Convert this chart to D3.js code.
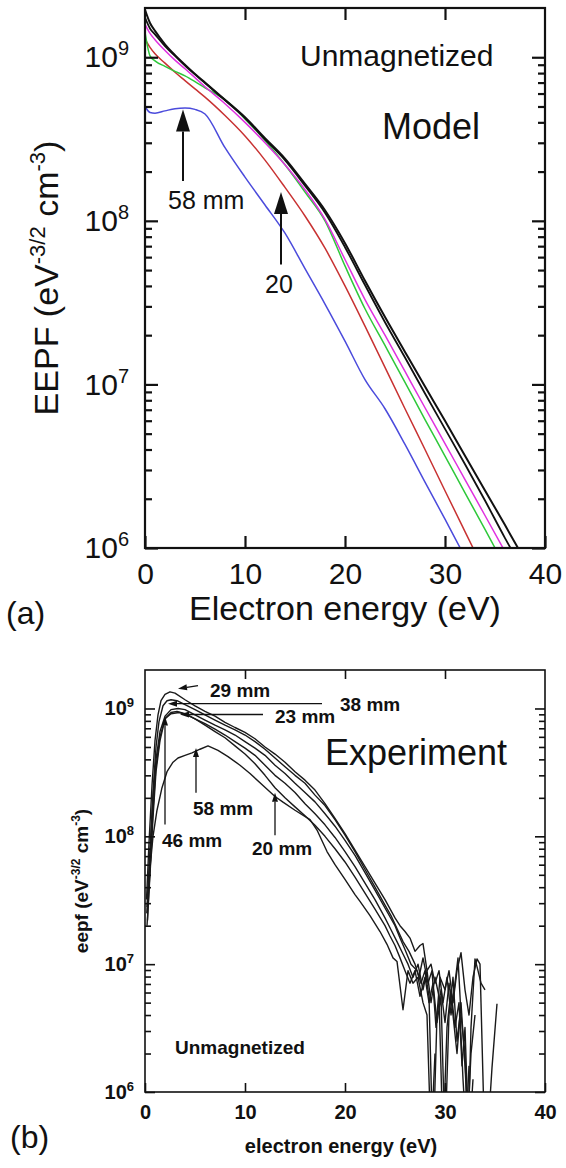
<!DOCTYPE html>
<html>
<head>
<meta charset="utf-8">
<script src="https://cdn.jsdelivr.net/npm/d3@7"></script>
<style>
  body { margin: 0; background: #fff; }
  text { font-family: "Liberation Sans", Arial, Helvetica, sans-serif; fill: #111; }
</style>
</head>
<body>
<div id="chart"></div>
<script>
// ---------- panel (a): model EEPF on a common energy grid (eV)
var modelEnergy = [0, 0.5, 1, 2, 3, 4, 5, 6, 8, 10, 12, 14, 16, 18, 20, 22, 24, 26, 28, 30, 32, 34, 36, 38];

var modelBlackA = [1.95e9, 1.62e9, 1.45e9, 1.2e9, 1.03e9, 9.0e8, 7.9e8, 7.0e8, 5.5e8, 4.3e8, 3.2e8, 2.4e8,
  1.68e8, 1.16e8, 7.3e7, 4.3e7, 2.58e7, 1.58e7, 9.7e6, 6.0e6, 3.66e6, 2.25e6, 1.38e6, 8.4e5];
var modelBlackB = [1.75e9, 1.5e9, 1.38e9, 1.17e9, 1.02e9, 8.9e8, 7.85e8, 6.95e8, 5.45e8, 4.25e8, 3.15e8, 2.35e8,
  1.64e8, 1.12e8, 6.9e7, 4.05e7, 2.4e7, 1.46e7, 8.8e6, 5.35e6, 3.25e6, 1.95e6, 1.15e6, 7.0e5];
var modelMagenta = [1.59e9, 1.4e9, 1.28e9, 1.1e9, 9.6e8, 8.5e8, 7.5e8, 6.6e8, 5.2e8, 4.0e8, 3.0e8, 2.2e8,
  1.55e8, 1.02e8, 5.8e7, 3.3e7, 2.0e7, 1.2e7, 7.2e6, 4.35e6, 2.62e6, 1.58e6, 9.5e5, 5.7e5];
var modelGreen = [1.42e9, 1.02e9, 9.5e8, 8.8e8, 8.2e8, 7.7e8, 7.1e8, 6.5e8, 5.5e8, 4.2e8, 3.1e8, 2.2e8,
  1.5e8, 1.0e8, 5.3e7, 2.9e7, 1.73e7, 1.03e7, 6.1e6, 3.65e6, 2.17e6, 1.3e6, 7.7e5, 4.6e5];
var modelRed = [1.29e9, 1.15e9, 1.05e9, 9.2e8, 8.1e8, 7.2e8, 6.4e8, 5.7e8, 4.4e8, 3.3e8, 2.35e8, 1.6e8,
  1.07e8, 6.8e7, 4.0e7, 2.27e7, 1.27e7, 7.1e6, 4.0e6, 2.24e6, 1.26e6, 7.1e5, 4.0e5, 2.2e5];
var modelBlue = [5.0e8, 4.6e8, 4.55e8, 4.7e8, 4.85e8, 4.9e8, 4.8e8, 4.5e8, 2.8e8, 1.85e8, 1.25e8, 8.4e7,
  5.1e7, 3.1e7, 1.84e7, 1.07e7, 7.1e6, 4.3e6, 2.53e6, 1.5e6, 8.8e5, 5.2e5, 3.0e5, 1.8e5];

var modelSeries = [
  { values: modelBlue, color: "#4b4bdc", width: 1.5 },
  { values: modelRed, color: "#c83232", width: 1.5 },
  { values: modelGreen, color: "#2ec83a", width: 1.5 },
  { values: modelMagenta, color: "#e030e0", width: 1.5 },
  { values: modelBlackB, color: "#111", width: 1.8 },
  { values: modelBlackA, color: "#111", width: 2 }
];

// arrows of panel (a): energy, tip and tail values
var modelArrows = [
  { label: "58 mm", energy: 3.8, tip: 4.8e8, tail: 1.75e8, dx: -15 },
  { label: "20", energy: 13.6, tip: 1.5e8, tail: 5.4e7, dx: -16 }
];

// ---------- panel (b): experiment, [energy (eV), eepf] pairs
var exp29mm = [[0.15,3.2e7],[0.4,8.9e7],[0.7,2.5e8],[1.0,5.6e8],[1.3,8.9e8],[1.6,1.15e9],[2.0,1.29e9],[2.5,1.35e9],
  [3.0,1.32e9],[4,1.17e9],[5,1.05e9],[6,9.5e8],[7,8.7e8],[8,7.8e8],[9,7.1e8],[10,6.5e8],[11,5.8e8],[12,5.0e8],
  [13,4.4e8],[14,3.8e8],[15,3.2e8],[16,2.75e8],[17,2.3e8],[18,1.8e8],[19,1.38e8],[20,1.05e8],[21,7.8e7],[22,5.8e7],
  [23,4.3e7],[24,3.2e7],[25,2.3e7],[25.5,2.0e7],[26,1.8e7],[26.5,1.6e7],[27,1.26e7],[27.5,1.4e7],[27.8,1.45e7],
  [28.2,8.9e6],[28.6,1.0e7],[29,7.1e6],[29.4,8.9e6],[29.8,5.0e6],[30.2,7.9e6],[30.6,4.0e6],[31,7.1e6],[31.3,1.12e7],
  [31.6,4.0e6],[32,2.0e6],[32.3,4.0e5],[32.6,3.2e6],[33,1.1e7],[33.3,8.9e6],[33.6,7.1e6],[34,6.3e6]];
var exp38mm = [[0.2,2.8e7],[0.5,7.9e7],[0.8,2.2e8],[1.1,5.0e8],[1.4,7.9e8],[1.8,1.05e9],[2.2,1.15e9],[2.6,1.17e9],
  [3.2,1.15e9],[4,1.07e9],[5,9.8e8],[6,8.9e8],[7,8.1e8],[8,7.4e8],[9,6.8e8],[10,6.2e8],[11,5.5e8],[12,4.8e8],
  [13,4.1e8],[14,3.5e8],[15,3.0e8],[16,2.6e8],[17,2.1e8],[18,1.74e8],[19,1.35e8],[20,1.02e8],[21,7.6e7],[22,5.5e7],
  [23,4.0e7],[24,2.9e7],[24.6,2.4e7],[25.2,1.9e7],[25.8,1.5e7],[26.4,1.26e7],[27,1.0e7],[27.4,7.9e6],[27.8,1.12e7],
  [28.3,7.1e6],[28.7,8.9e6],[29.1,3.2e6],[29.5,7.9e6],[30,6.3e6],[30.4,8.9e6],[30.8,5.0e6],[31.2,8.9e6],[31.6,1.23e7],
  [32,6.3e6],[32.4,4.0e6],[32.8,7.9e6],[33.2,1.1e7],[33.5,1.0e7],[34,3.2e5],[34.3,5.0e5],[34.7,1.55e6],[35.2,4.9e6]];
var exp23mm = [[0.2,2.5e7],[0.5,7.1e7],[0.8,2.0e8],[1.1,4.0e8],[1.5,6.6e8],[2.0,8.7e8],[2.6,9.8e8],[3.3,1.0e9],
  [4,9.8e8],[5,8.9e8],[6,8.1e8],[7,7.4e8],[8,6.8e8],[9,6.2e8],[10,5.5e8],[11,4.9e8],[12,4.3e8],[13,3.6e8],
  [14,3.1e8],[15,2.6e8],[16,2.2e8],[17,1.86e8],[18,1.5e8],[19,1.2e8],[20,9.3e7],[21,7.1e7],[22,5.2e7],[23,3.8e7],
  [24,2.75e7],[25,2.0e7],[25.5,1.6e7],[26,1.3e7],[26.6,1.0e7],[27.2,8.9e6],[27.6,7.1e6],[28,8.9e6],[28.4,5.6e6],
  [28.8,3.2e5],[29.2,4.0e6],[29.6,6.3e6],[30,3.5e6],[30.4,7.1e6],[30.8,4.0e6],[31.2,2.0e6],[31.6,5.0e6],[32,1.6e6],
  [32.4,4.0e5],[32.8,1.26e6]];
var exp20mm = [[0.25,2.2e7],[0.5,5.6e7],[0.8,1.6e8],[1.1,3.5e8],[1.5,6.0e8],[2.0,8.3e8],[2.6,9.3e8],[3.2,9.5e8],
  [4,9.1e8],[5,8.3e8],[6,7.4e8],[7,6.6e8],[8,5.9e8],[9,5.1e8],[10,4.4e8],[11,3.7e8],[12,3.0e8],[13,2.4e8],
  [14,2.0e8],[15,1.7e8],[16,1.45e8],[17,1.22e8],[18,1.0e8],[19,8.0e7],[20,6.3e7],[21,4.8e7],[22,3.6e7],[23,2.7e7],
  [24,2.0e7],[24.5,1.66e7],[25,1.4e7],[25.5,1.12e7],[26,8.9e6],[26.5,7.1e6],[27,8.9e6],[27.5,5.6e6],[28,7.9e6],
  [28.4,5.0e6],[28.8,7.1e6],[29.2,3.5e6],[29.6,5.6e6],[30,4.0e5],[30.4,4.0e6],[30.8,7.9e6],[31.2,2.5e6],[31.5,4.0e6],
  [31.8,1.26e6],[32.1,5.0e5],[32.4,1.6e6]];
var exp46mm = [[0.2,2.0e7],[0.5,5.0e7],[0.8,1.4e8],[1.1,3.2e8],[1.5,5.6e8],[2.0,8.3e8],[2.6,9.1e8],[3.4,9.3e8],
  [4.2,8.9e8],[5,8.3e8],[6,7.6e8],[7,6.9e8],[8,6.2e8],[9,5.5e8],[10,4.9e8],[11,4.3e8],[12,3.6e8],[13,3.0e8],
  [14,2.6e8],[15,2.2e8],[16,1.8e8],[17,1.5e8],[18,1.23e8],[19,9.8e7],[20,7.6e7],[21,5.8e7],[22,4.3e7],[23,3.2e7],
  [24,2.3e7],[24.6,1.86e7],[25.2,1.5e7],[25.8,1.2e7],[26.3,1.0e7],[26.8,7.9e6],[27.3,1.0e7],[27.8,6.3e6],[28.2,8.9e6],
  [28.6,5.0e6],[29,7.9e6],[29.4,5.6e6],[29.8,4.0e5],[30.2,3.2e6],[30.6,6.3e6],[31,3.2e6],[31.4,5.0e6],[31.7,1.6e6],
  [32,3.2e6],[32.3,6.3e5],[32.6,2.0e6],[33,4.0e6]];
var exp58mm = [[0.2,2.5e7],[0.5,5.6e7],[0.8,1.0e8],[1.2,1.6e8],[1.7,2.4e8],[2.2,3.2e8],[2.8,3.8e8],[3.3,4.1e8],
  [4.0,4.3e8],[4.7,4.5e8],[5.5,4.8e8],[6.3,5.1e8],[7.3,4.7e8],[8.3,4.2e8],[9.5,3.6e8],[10.5,3.1e8],[11.8,2.5e8],
  [13,2.05e8],[13.8,1.85e8],[15,1.6e8],[16.5,1.35e8],[17.2,1.12e8],[18.2,7.6e7],[19,6.0e7],[20,4.6e7],[21,3.5e7],
  [21.5,3.1e7],[22.5,2.4e7],[23.5,1.8e7],[24.2,1.43e7],[24.8,1.12e7],[25.2,1.05e7],[25.8,4.4e6],[26.3,8.9e6],
  [26.8,7.1e6],[27.3,7.9e6],[27.8,5.0e6],[28.2,4.0e6],[28.6,4.0e5],[29,2.0e6]];

var expCurves = [exp58mm, exp20mm, exp46mm, exp23mm, exp38mm, exp29mm];

// labels and arrows of panel (b): [energy, eepf] points
var expArrows = [
  { label: "29 mm", from: [5.3, 1.51e9], to: [3.3, 1.43e9], text: [6.5, 1.22e9] },
  { label: "38 mm", from: [17.7, 1.09e9], to: [2.3, 1.09e9], text: [19.5, 9.5e8] },
  { label: "23 mm", from: [11.8, 8.97e8], to: [3.5, 8.97e8], text: [13.0, 7.65e8] },
  { label: "58 mm", from: [5.1, 2.19e8], to: [5.1, 4.9e8], text: [4.8, 1.46e8] },
  { label: "46 mm", from: [2.0, 1.24e8], to: [2.0, 8.66e8], text: [1.7, 8.2e7] },
  { label: "20 mm", from: [13.0, 1.02e8], to: [13.0, 2.19e8], text: [10.7, 7.13e7] }
];

var decades = [1e6, 1e7, 1e8, 1e9];
var minorTicks = [];
for (var p = 6; p <= 9; p++) {
  for (var m = 2; m <= 9; m++) {
    if (m * Math.pow(10, p) < 2e9) minorTicks.push(m * Math.pow(10, p));
  }
}

// ---------- svg and scales
var svgWidth = 566;
var svgHeight = 1168;

var svg = d3.select("#chart")
  .append("svg")
  .attr("width", svgWidth)
  .attr("height", svgHeight);

var x = d3.scaleLinear().domain([0, 40]).range([145, 545]);
var yA = d3.scaleLog().domain([1e6, 2e9]).range([548, 8]);
var yB = d3.scaleLog().domain([1e6, 2e9]).range([1092, 670]);

// superscript tick labels: 10^n
function powerLabels(axisG, supSize, rise) {
  axisG.selectAll(".tick text").each(function(d) {
    var t = d3.select(this).text(null);
    t.append("tspan").text("10");
    t.append("tspan").attr("font-size", supSize).attr("dy", -rise).text(Math.round(Math.log10(d)));
  });
}

// frame, inward ticks and tick labels for one panel
function drawAxes(yScale, s) {
  var g = svg.append("g");
  var top = yScale.range()[1], bottom = yScale.range()[0];

  var left = g.append("g")
    .attr("transform", `translate(${x(0)},0)`)
    .call(d3.axisLeft(yScale).tickValues(decades).tickSize(-s.major).tickSizeOuter(0).tickPadding(s.ypad));
  powerLabels(left, s.supSize, s.rise);
  g.append("g")
    .attr("transform", `translate(${x(0)},0)`)
    .call(d3.axisLeft(yScale).tickValues(minorTicks).tickSize(-s.minor).tickFormat(""));

  g.append("g")
    .attr("transform", `translate(${x(40)},0)`)
    .call(d3.axisRight(yScale).tickValues(decades).tickSize(-s.major).tickSizeOuter(0).tickFormat(""));
  g.append("g")
    .attr("transform", `translate(${x(40)},0)`)
    .call(d3.axisRight(yScale).tickValues(minorTicks).tickSize(-s.minor).tickFormat(""));

  var bottomAxis = g.append("g")
    .attr("transform", `translate(0,${bottom})`)
    .call(d3.axisBottom(x).tickValues([0, 10, 20, 30, 40]).tickSize(-s.xtick).tickSizeOuter(0).tickPadding(s.xpad));

  g.append("g")
    .attr("transform", `translate(0,${top})`)
    .call(d3.axisTop(x).tickValues([10, 20, 30]).tickSize(-s.xtick).tickSizeOuter(0).tickFormat(""));

  g.selectAll(".domain").remove();
  g.selectAll(".tick line").attr("stroke", "#111").attr("stroke-width", s.stroke);
  g.selectAll("g")
    .attr("font-family", null)
    .attr("font-size", s.font)
    .attr("font-weight", s.weight);
  bottomAxis.attr("font-size", s.xfont);

  g.append("rect")
    .attr("x", x(0))
    .attr("y", top)
    .attr("width", x(40) - x(0))
    .attr("height", bottom - top)
    .attr("fill", "none")
    .attr("stroke", "#111")
    .attr("stroke-width", s.stroke);
}

function arrow(g, x1, y1, x2, y2, headLen, headW, sw) {
  var ang = Math.atan2(y2 - y1, x2 - x1);
  var bx = x2 - headLen * Math.cos(ang), by = y2 - headLen * Math.sin(ang);
  g.append("line")
    .attr("x1", x1).attr("y1", y1).attr("x2", bx).attr("y2", by)
    .attr("stroke", "#111").attr("stroke-width", sw);
  var px = -Math.sin(ang) * headW / 2, py = Math.cos(ang) * headW / 2;
  g.append("path")
    .attr("d", `M${x2},${y2}L${bx + px},${by + py}L${bx - px},${by - py}Z`)
    .attr("fill", "#111");
}

// clip paths
var defs = svg.append("defs");
defs.append("clipPath").attr("id", "clipA").append("rect")
  .attr("x", x(0)).attr("y", yA(2e9)).attr("width", x(40) - x(0)).attr("height", yA(1e6) - yA(2e9));
defs.append("clipPath").attr("id", "clipB").append("rect")
  .attr("x", x(0)).attr("y", yB(2e9)).attr("width", x(40) - x(0)).attr("height", yB(1e6) - yB(2e9));

// ---------- panel (a)
var lineA = d3.line()
  .x((d, i) => x(modelEnergy[i]))
  .y(d => yA(d))
  .curve(d3.curveMonotoneX);

svg.append("g")
  .attr("clip-path", "url(#clipA)")
  .selectAll("path")
  .data(modelSeries)
  .enter()
  .append("path")
  .attr("d", d => lineA(d.values))
  .attr("fill", "none")
  .attr("stroke", d => d.color)
  .attr("stroke-width", d => d.width)
  .attr("stroke-linejoin", "round");

drawAxes(yA, { major: 13, minor: 7, xtick: 12, stroke: 2.2, ypad: 16, xpad: 15,
  font: 30, xfont: 29, weight: "normal", supSize: 20, rise: 12 });

var annA = svg.append("g");
modelArrows.forEach(function(a) {
  arrow(annA, x(a.energy), yA(a.tail), x(a.energy), yA(a.tip), 22, 14, 2);
  annA.append("text")
    .attr("x", x(a.energy) + a.dx)
    .attr("y", yA(a.tail) + 28)
    .attr("font-size", 25)
    .text(a.label);
});

annA.append("text").attr("x", x(15.5)).attr("y", yA(8.8e8)).attr("font-size", 30).text("Unmagnetized");
annA.append("text").attr("x", x(23.7)).attr("y", yA(3.15e8)).attr("font-size", 36).text("Model");

// axis labels (a)
svg.append("text")
  .attr("x", (x(0) + x(40)) / 2)
  .attr("y", 620)
  .attr("text-anchor", "middle")
  .attr("font-size", 34)
  .text("Electron energy (eV)");

var yLabelA = svg.append("text")
  .attr("transform", `translate(58,${(yA(1e6) + yA(2e9)) / 2}) rotate(-90)`)
  .attr("text-anchor", "middle")
  .attr("font-size", 34);
yLabelA.append("tspan").text("EEPF (eV");
yLabelA.append("tspan").attr("font-size", 22).attr("dy", -13).text("-3/2");
yLabelA.append("tspan").attr("dy", 13).text(" cm");
yLabelA.append("tspan").attr("font-size", 22).attr("dy", -13).text("-3");
yLabelA.append("tspan").attr("dy", 13).text(")");

svg.append("text").attr("x", 6).attr("y", 624).attr("font-size", 32).text("(a)");

// ---------- panel (b)
var lineB = d3.line()
  .x(d => x(d[0]))
  .y(d => yB(d[1]));

svg.append("g")
  .attr("clip-path", "url(#clipB)")
  .selectAll("path")
  .data(expCurves)
  .enter()
  .append("path")
  .attr("d", lineB)
  .attr("fill", "none")
  .attr("stroke", "#1a1a1a")
  .attr("stroke-width", 1.4)
  .attr("stroke-linejoin", "round");

drawAxes(yB, { major: 10, minor: 6, xtick: 9, stroke: 1.6, ypad: 11, xpad: 13,
  font: 20, xfont: 20, weight: "bold", supSize: 13, rise: 8 });

var annB = svg.append("g");
expArrows.forEach(function(a) {
  arrow(annB, x(a.from[0]), yB(a.from[1]), x(a.to[0]), yB(a.to[1]), 9, 6, 1.3);
  annB.append("text")
    .attr("x", x(a.text[0]))
    .attr("y", yB(a.text[1]))
    .attr("font-size", 19)
    .attr("font-weight", "bold")
    .text(a.label);
});

annB.append("text").attr("x", x(18)).attr("y", yB(3.6e8)).attr("font-size", 36).text("Experiment");
annB.append("text").attr("x", x(3)).attr("y", yB(2.0e6)).attr("font-size", 19)
  .attr("font-weight", "bold").text("Unmagnetized");

svg.append("text")
  .attr("x", 341)
  .attr("y", 1153)
  .attr("text-anchor", "middle")
  .attr("font-size", 20)
  .attr("font-weight", "bold")
  .text("electron energy (eV)");

var yLabelB = svg.append("text")
  .attr("transform", `translate(88,${(yB(1e6) + yB(2e9)) / 2}) rotate(-90)`)
  .attr("text-anchor", "middle")
  .attr("font-size", 19)
  .attr("font-weight", "bold");
yLabelB.append("tspan").text("eepf (eV");
yLabelB.append("tspan").attr("font-size", 12).attr("dy", -8).text("-3/2");
yLabelB.append("tspan").attr("dy", 8).text(" cm");
yLabelB.append("tspan").attr("font-size", 12).attr("dy", -8).text("-3");
yLabelB.append("tspan").attr("dy", 8).text(")");

svg.append("text").attr("x", 10).attr("y", 1148).attr("font-size", 32).text("(b)");
</script>
</body>
</html>
